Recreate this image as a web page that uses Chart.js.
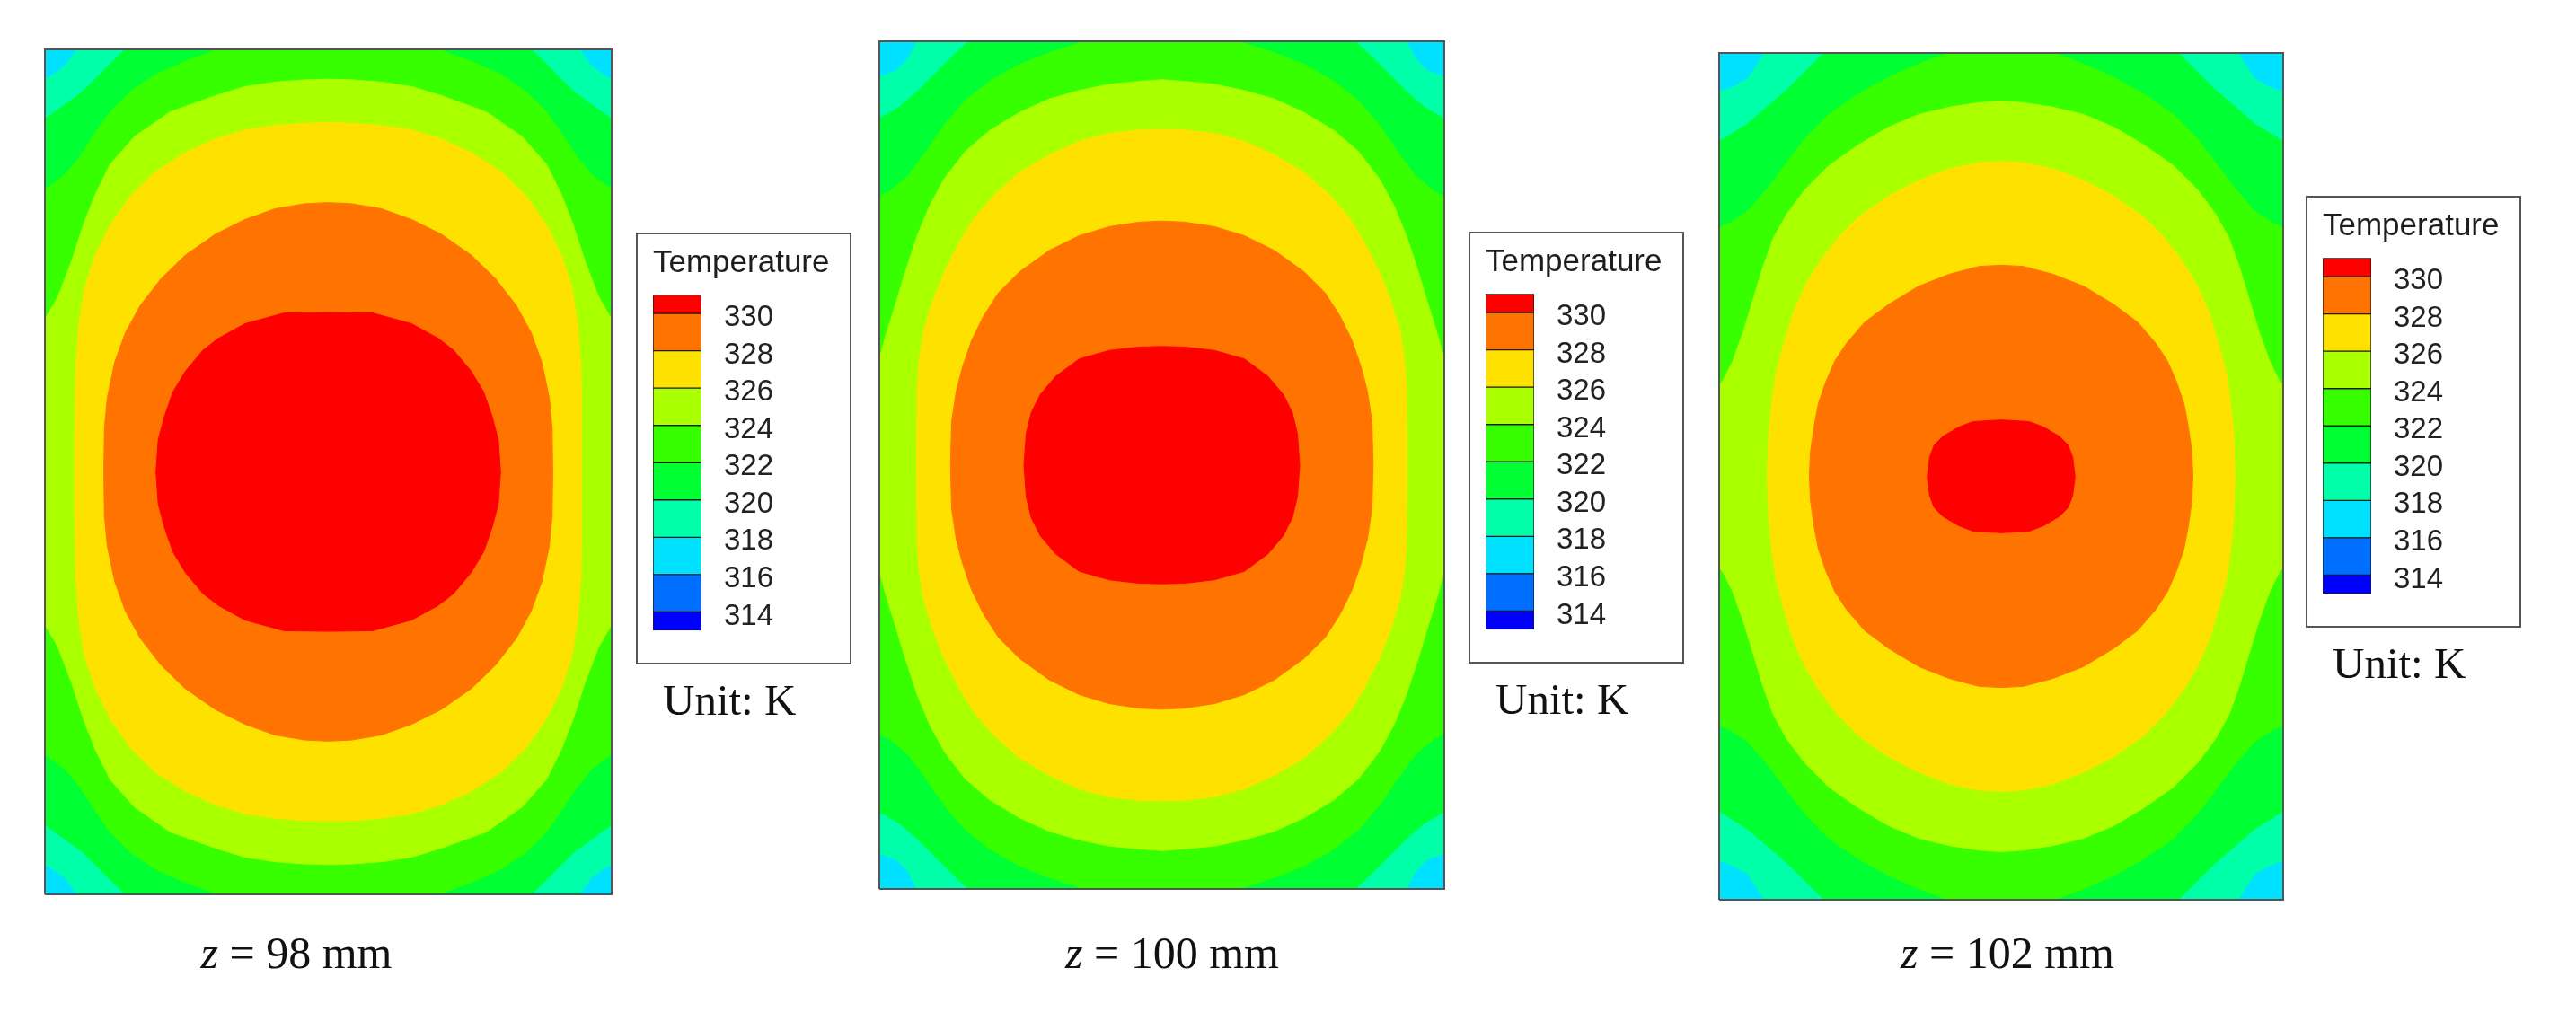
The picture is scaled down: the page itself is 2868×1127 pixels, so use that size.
<!DOCTYPE html>
<html>
<head>
<meta charset="utf-8">
<script src="https://cdn.jsdelivr.net/npm/chart.js@4.4.1/dist/chart.umd.min.js"></script>
<style>
  html, body { margin: 0; padding: 0; background: #fff; }
  #page { position: relative; width: 2868px; height: 1127px; overflow: hidden; background: #fff; }
  canvas { position: absolute; }
  .box { position: absolute; width: 236px; height: 477px; border: 2px solid #555; }
  .unit { position: absolute; font: 49px/49px "Liberation Serif", "Times New Roman", serif; color: #111; white-space: nowrap; }
  .caption { position: absolute; width: 400px; text-align: center; font: 50px/50px "Liberation Serif", "Times New Roman", serif; color: #111; white-space: nowrap; }
</style>
</head>
<body>
<div id="page"></div>
<script>
// contour levels (K) and the colour of the band just above each one
const levels = [318, 320, 322, 324, 326, 328, 330];
const bandColors = ["#00ffa8", "#00ff33", "#38ff00", "#aaff00", "#ffe100", "#ff7300", "#ff0000"];
const cornerColor = "#00e1ff"; // 316-318, left in the corners

// legend
const legendTicks = [314, 316, 318, 320, 322, 324, 326, 328, 330];
const legendMin = 313;
const legendMax = 331;
const legendColors = ["#0000ff", "#006eff", "#00e1ff", "#00ffa8", "#00ff33", "#38ff00", "#aaff00", "#ffe100", "#ff7300", "#ff0000"];

// section labels (mm)
const zValues = [98, 100, 102];

// contour lines, top-left quarter of each section (x: -50..0, y: 0..75),
// read off the picture; the field is symmetric about both centre lines
const q98_318 = [[0,75],[-44.3,75],[-46.4,72.1],[-48.5,70.5],[-50,69.7],[-50,0]];
const q98_320 = [[0,75],[-35.8,75],[-38.5,72.4],[-41.1,69.7],[-43.8,67.1],[-46.9,64.9],[-50,62.6],[-50,0]];
const q98_322 = [[0,75],[-19.4,75],[-25.2,72.9],[-30.5,70.5],[-34.8,67.6],[-38.5,63.9],[-41.1,60.2],[-43.8,56.0],[-46.4,52.8],[-50,50.1],[-50,0]];
const q98_324 = [[0,69.7],[-4.1,69.6],[-9.4,69.2],[-14.7,68.4],[-19.9,66.8],[-27.9,63.9],[-34.2,59.5],[-38.5,54.6],[-41.1,49.3],[-43.2,43.9],[-45.3,37.4],[-47.7,31.1],[-50,27.1],[-50,0]];
const q98_326 = [[0,62.0],[-4.1,61.9],[-9.4,61.5],[-14.7,60.7],[-19.9,59.1],[-25.2,56.7],[-30.5,53.3],[-34.8,49.1],[-38.5,43.8],[-41.1,38.5],[-43.0,32.7],[-44.0,26.3],[-44.6,18.4],[-44.7,7.8],[-44.7,0]];
const q98_328 = [[0,47.8],[-4.1,47.6],[-9.4,46.7],[-14.7,44.8],[-19.9,42.2],[-25.2,38.5],[-29.5,34.3],[-33.2,29.5],[-35.8,24.7],[-37.7,19.4],[-39.0,13.1],[-39.5,7.8],[-39.6,0]];
const q98_330 = [[0,28.3],[-7.8,28.2],[-14.7,26.3],[-19.4,23.7],[-22.1,21.6],[-25.2,17.9],[-27.4,14.2],[-28.9,9.9],[-30.0,5.7],[-30.4,0]];

const q100_318 = [[0,75],[-43.3,75],[-44.9,71.9],[-47.0,69.8],[-50,68.7],[-50,0]];
const q100_320 = [[0,75],[-34.2,75],[-36.9,72.5],[-40.1,69.3],[-43.3,66.1],[-46.4,63.4],[-50,61.3],[-50,0]];
const q100_322 = [[0,75],[-13.5,75],[-19.9,73.0],[-25.2,70.9],[-30.5,67.9],[-34.8,64.5],[-38.5,60.2],[-41.7,55.5],[-44.9,51.2],[-48.0,48.6],[-50,47.5],[-50,0]];
const q100_324 = [[0,68.2],[-4.0,67.9],[-9.3,67.4],[-14.6,66.3],[-19.9,64.8],[-25.2,62.4],[-30.5,59.2],[-34.8,55.5],[-38.5,50.7],[-41.1,45.9],[-43.3,40.6],[-45.4,34.2],[-47.0,28.9],[-48.8,23.1],[-50,18.8],[-50,0]];
const q100_326 = [[0,59.4],[-4.0,59.3],[-9.3,58.7],[-14.6,57.3],[-19.9,54.9],[-25.2,51.8],[-29.5,48.0],[-33.2,43.8],[-35.8,39.5],[-38.5,34.2],[-40.6,28.9],[-42.2,23.6],[-43.0,18.3],[-43.3,13.0],[-43.4,0]];
const q100_328 = [[0,43.2],[-4.0,43.0],[-9.3,42.2],[-14.6,40.6],[-19.9,38.0],[-25.2,34.2],[-28.9,30.5],[-31.6,26.3],[-33.7,22.0],[-35.3,17.3],[-36.4,13.0],[-37.2,7.7],[-37.4,0]];
const q100_330 = [[0,21.0],[-4.0,20.9],[-9.3,20.3],[-14.6,18.8],[-18.8,15.7],[-21.5,12.5],[-23.1,9.3],[-24.0,5.6],[-24.4,0]];

const q102_318 = [[0,75],[-42.0,75],[-43.3,72.9],[-44.9,70.5],[-47.6,68.9],[-50,68.1],[-50,0]];
const q102_320 = [[0,75],[-31.4,75],[-34.3,72.1],[-37.5,68.9],[-41.2,65.7],[-44.9,62.5],[-50,59.3],[-50,0]];
const q102_322 = [[0,75],[-9.2,75],[-14.6,73.1],[-19.9,70.7],[-25.2,67.8],[-30.6,64.1],[-34.8,59.8],[-38.0,55.6],[-41.2,51.3],[-44.9,47.0],[-48.1,44.9],[-50,44.1],[-50,0]];
const q102_324 = [[0,66.5],[-3.9,66.2],[-9.2,65.4],[-14.6,64.1],[-19.9,61.9],[-25.2,58.8],[-30.6,55.0],[-34.8,50.8],[-38.0,46.5],[-40.4,42.2],[-42.3,36.9],[-43.9,31.6],[-45.7,25.7],[-47.6,20.4],[-49.2,17.2],[-50,16.1],[-50,0]];
const q102_326 = [[0,55.8],[-3.9,55.6],[-9.2,54.5],[-14.6,52.4],[-19.9,49.7],[-25.2,46.0],[-29.0,42.2],[-32.2,38.0],[-34.8,33.7],[-36.9,28.9],[-38.5,23.6],[-39.9,18.3],[-40.7,12.9],[-41.2,7.6],[-41.5,0]];
const q102_328 = [[0,37.4],[-3.9,37.2],[-9.2,35.8],[-14.6,33.7],[-19.9,30.5],[-24.2,27.3],[-27.4,23.6],[-29.5,20.4],[-31.1,16.7],[-32.4,12.9],[-33.2,8.7],[-33.8,4.4],[-34.0,0]];
const q102_330 = [[0,10.0],[-5.0,9.7],[-7.6,8.7],[-10.3,7.1],[-11.9,5.5],[-12.7,3.3],[-13.1,0]];

const contours = [
  [q98_318, q98_320, q98_322, q98_324, q98_326, q98_328, q98_330],
  [q100_318, q100_320, q100_322, q100_324, q100_326, q100_328, q100_330],
  [q102_318, q102_320, q102_322, q102_324, q102_326, q102_328, q102_330],
];

// page layout (px)
const frames = [
  { x: 50, y: 55, w: 631, h: 941 },
  { x: 979, y: 46, w: 629, h: 944 },
  { x: 1914, y: 59, w: 628, h: 943 },
];
const legendBoxes = [
  { x: 708, y: 259 },
  { x: 1635, y: 258 },
  { x: 2567, y: 218 },
];
const captionCenters = [330, 1305, 2235];

const page = document.getElementById("page");
const sansFont = "'Liberation Sans', Arial, sans-serif";

// build the closed outline from one quarter by mirroring it
function ring(q) {
  const pts = [];
  q.forEach(([x, y]) => pts.push({ x, y }));
  q.slice().reverse().forEach(([x, y]) => pts.push({ x, y: -y }));
  q.forEach(([x, y]) => pts.push({ x: -x, y: -y }));
  q.slice().reverse().forEach(([x, y]) => pts.push({ x: -x, y }));
  return pts;
}

function addCanvas(x, y, w, h) {
  const c = document.createElement("canvas");
  c.width = w;
  c.height = h;
  c.style.left = x + "px";
  c.style.top = y + "px";
  page.appendChild(c);
  return c;
}

function drawSection(i) {
  const f = frames[i];
  const pad = 3;
  const canvas = addCanvas(f.x - pad, f.y - pad, f.w + 2 * pad, f.h + 2 * pad);

  const datasets = [];
  // frame line on top
  datasets.push({
    data: [{ x: -50, y: -75 }, { x: 50, y: -75 }, { x: 50, y: 75 }, { x: -50, y: 75 }, { x: -50, y: -75 }],
    showLine: true, fill: false, borderColor: "#555", borderWidth: 2, pointRadius: 0, clip: 4,
  });
  // hottest band first so it ends up on top
  for (let k = levels.length - 1; k >= 0; k--) {
    datasets.push({
      data: ring(contours[i][k]),
      showLine: true, fill: "shape", backgroundColor: bandColors[k],
      borderColor: bandColors[k], borderWidth: 1, pointRadius: 0,
    });
  }
  datasets.push({
    data: [{ x: -50, y: 75 }, { x: 50, y: 75 }, { x: 50, y: -75 }, { x: -50, y: -75 }],
    showLine: true, fill: "shape", backgroundColor: cornerColor,
    borderColor: cornerColor, borderWidth: 1, pointRadius: 0,
  });

  new Chart(canvas, {
    type: "scatter",
    data: { datasets },
    options: {
      animation: false, responsive: false, devicePixelRatio: 1,
      layout: { padding: pad },
      plugins: { legend: { display: false }, tooltip: { enabled: false } },
      scales: {
        x: { type: "linear", min: -50, max: 50, display: false },
        y: { type: "linear", min: -75, max: 75, display: false },
      },
    },
  });
}

function drawLegend(i) {
  const b = legendBoxes[i];
  const box = document.createElement("div");
  box.className = "box";
  box.style.left = b.x + "px";
  box.style.top = b.y + "px";
  page.appendChild(box);

  // the tick labels reserve about 45px below the bar
  const cw = 217, ch = 482;
  const canvas = addCanvas(b.x + 19, b.y + 6, cw, ch);
  const bounds = [legendMin, ...legendTicks, legendMax];

  new Chart(canvas, {
    type: "bar",
    data: {
      labels: [""],
      datasets: legendColors.map((c, k) => ({
        data: [[bounds[k], bounds[k + 1]]],
        backgroundColor: c, borderColor: "#1a1a1a", borderWidth: 1, borderSkipped: false,
        barPercentage: 1, categoryPercentage: 1, grouped: false,
      })),
    },
    options: {
      animation: false, responsive: false, devicePixelRatio: 1,
      layout: { padding: 0 },
      plugins: {
        legend: { display: false },
        tooltip: { enabled: false },
        title: {
          display: true, text: "Temperature", align: "start", color: "#1e1e1e",
          font: { family: sansFont, size: 35, weight: "normal", lineHeight: 1 },
          padding: { top: 10.5, bottom: 17.8 },
        },
      },
      scales: {
        x: { display: false },
        y: {
          position: "right", min: legendMin, max: legendMax,
          grid: { display: false, drawTicks: false },
          border: { display: false },
          ticks: { color: "#222", font: { family: sansFont, size: 33 }, padding: 25, labelOffset: 5 },
          afterBuildTicks: (ax) => { ax.ticks = legendTicks.map((v) => ({ value: v })); },
          afterFit: (ax) => { ax.width = cw - 54; },
        },
      },
    },
  });

  const unit = document.createElement("div");
  unit.className = "unit";
  unit.textContent = "Unit: K";
  unit.style.left = b.x + 30 + "px";
  unit.style.top = b.y + 496 + "px";
  page.appendChild(unit);
}

function drawCaption(i) {
  const cap = document.createElement("div");
  cap.className = "caption";
  cap.innerHTML = "<i>z</i> = " + zValues[i] + " mm";
  cap.style.left = captionCenters[i] - 200 + "px";
  cap.style.top = "1036px";
  page.appendChild(cap);
}

[0, 1, 2].forEach((i) => {
  drawSection(i);
  drawLegend(i);
  drawCaption(i);
});
</script>
</body>
</html>
